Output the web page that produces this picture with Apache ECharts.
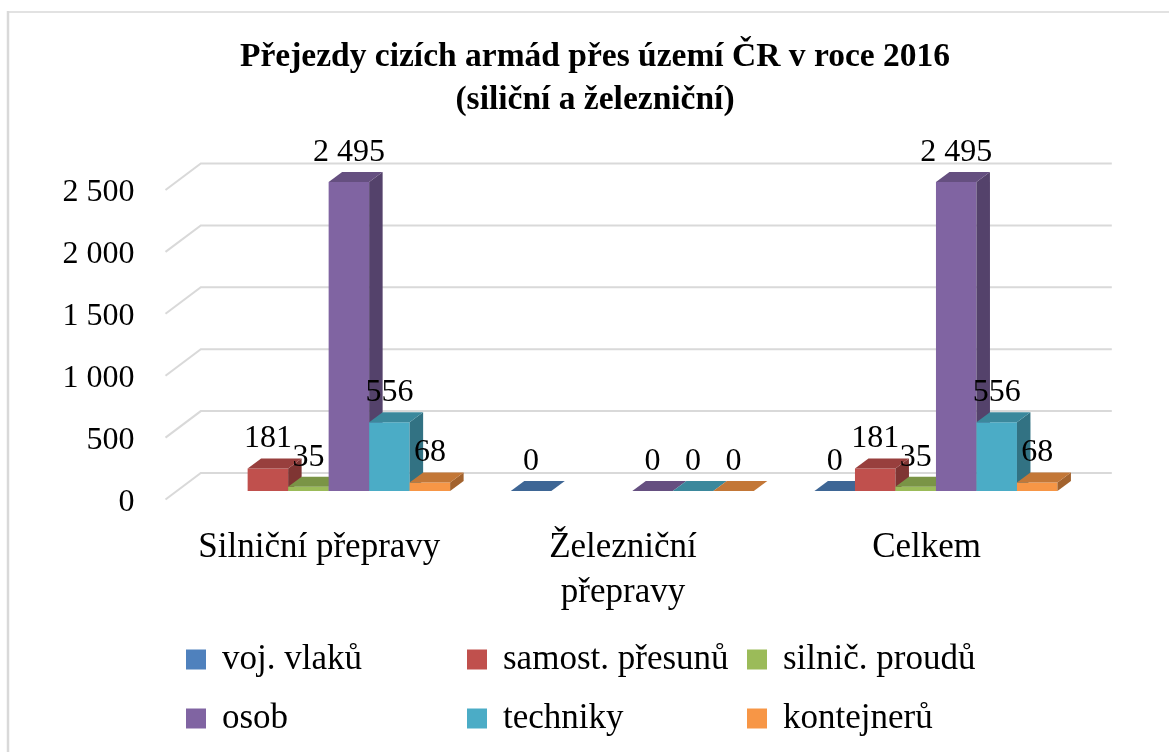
<!DOCTYPE html>
<html><head><meta charset="utf-8">
<style>html,body{margin:0;padding:0;background:#fff}#c{width:1169px;height:752px}</style>
<script src="https://cdn.jsdelivr.net/npm/echarts@6/dist/echarts.min.js"></script>
</head><body><div id="c"></div>
<script>
const categories = ['Silniční přepravy', 'Železniční\npřepravy', 'Celkem'];
const yTicks = [0, 500, 1000, 1500, 2000, 2500];
const seriesNames = ['voj. vlaků', 'samost. přesunů', 'silnič. proudů', 'osob', 'techniky', 'kontejnerů'];
const vojVlaku = [null, 0, 0];
const samostPresunu = [181, null, 181];
const silnicProudu = [35, null, 35];
const osob = [2495, 0, 2495];
const techniky = [556, 0, 556];
const kontejneru = [68, 0, 68];
const seriesValues = [vojVlaku, samostPresunu, silnicProudu, osob, techniky, kontejneru];
const colors = ['#4F81BD', '#C0504D', '#9BBB59', '#8064A2', '#4BACC6', '#F79646'];

const FONT = '"Liberation Serif", serif';
const WALL = [35.3, -26.5], BAR_SHIFT = [11.3, -8.5], BAR_DEPTH = [13.5, -10];
const BAR_RATIO = 40.5 / 303.67;

function shade(hex, k) {
  const n = parseInt(hex.slice(1), 16);
  const c = s => Math.round(((n >> s) & 255) * k);
  return `rgb(${c(16)},${c(8)},${c(0)})`;
}
const spaced = v => String(v).replace(/\B(?=(\d{3})+$)/g, ' ');

const gridSeries = {
  type: 'custom', name: 'mřížka', silent: true, z: 1,
  data: yTicks.map(t => [0, t]),
  encode: { x: 0, y: 1 },
  renderItem(params, api) {
    const y = api.coord([0, api.value(1)])[1];
    const x0 = params.coordSys.x, x1 = x0 + params.coordSys.width;
    return {
      type: 'polyline',
      shape: { points: [[x0, y], [x0 + WALL[0], y + WALL[1]], [x1 + WALL[0], y + WALL[1]]] },
      style: { stroke: '#D9D9D9', lineWidth: 2, fill: null }
    };
  }
};

const barSeries = seriesNames.map((name, si) => ({
  type: 'custom', name, z: 2,
  itemStyle: { color: colors[si] },
  data: seriesValues[si].map((v, i) => [i, v]),
  encode: { x: 0, y: 1 },
  renderItem(params, api) {
    const v = api.value(1);
    if (v === null || isNaN(v)) return null;
    const cat = api.value(0);
    const c = api.coord([cat, v]);
    const base = api.coord([cat, 0]);
    const w = api.size([1, 0])[0] * BAR_RATIO;
    const l = c[0] + (si - 3) * w + BAR_SHIFT[0], r = l + w;
    const t = c[1] + BAR_SHIFT[1], b = base[1] + BAR_SHIFT[1];
    const [dx, dy] = BAR_DEPTH;
    const col = colors[si];
    const children = [];
    if (b - t > 0.01) {
      children.push({ type: 'rect', shape: { x: l, y: t, width: w, height: b - t }, style: { fill: col } });
      children.push({ type: 'polygon', shape: { points: [[r, t], [r + dx, t + dy], [r + dx, b + dy], [r, b]] }, style: { fill: shade(col, 0.66) } });
    }
    children.push({ type: 'polygon', shape: { points: [[l, t], [l + dx, t + dy], [r + dx, t + dy], [r, t]] }, style: { fill: shade(col, 0.79) } });
    children.push({
      type: 'text', z2: 100, silent: true,
      style: { x: l + w / 2, y: t - 29.5, text: spaced(v), font: `32px ${FONT}`, fill: '#000', align: 'center', verticalAlign: 'middle' }
    });
    return { type: 'group', children };
  }
}));

const legendPos = [[186, 642], [467, 642], [747, 642], [186, 701], [467, 701], [747, 701]];
const legends = seriesNames.map((name, i) => ({
  data: [name], left: legendPos[i][0], top: legendPos[i][1], icon: 'rect',
  itemWidth: 20, itemHeight: 20, selectedMode: false, padding: 0, itemGap: 0,
  textStyle: { fontFamily: FONT, fontSize: 35, color: '#000', padding: [0, 0, 0, 11], lineHeight: 20, height: 20 }
}));

const chart = echarts.init(document.getElementById('c'), null, { renderer: 'canvas' });
chart.setOption({
  animation: false,
  backgroundColor: '#fff',
  title: {
    text: 'Přejezdy cizích armád přes území ČR v roce 2016\n(siliční a železniční)',
    left: 595, top: 36, textAlign: 'center', padding: 0,
    textStyle: { fontFamily: FONT, fontSize: 33.5, fontWeight: 'bold', color: '#000', lineHeight: 43 }
  },
  legend: legends,
  grid: { left: 165.5, top: 190, width: 911, height: 309.5, containLabel: false },
  xAxis: {
    type: 'category', data: categories,
    axisLine: { show: false }, axisTick: { show: false }, splitLine: { show: false },
    axisLabel: { fontFamily: FONT, fontSize: 35, color: '#000', margin: 26, lineHeight: 45, interval: 0, padding: [0, 0, 0, 4] }
  },
  yAxis: {
    type: 'value', min: 0, max: 2500, interval: 500,
    axisLine: { show: false }, axisTick: { show: false }, splitLine: { show: false },
    axisLabel: { fontFamily: FONT, fontSize: 32, color: '#000', margin: 31, formatter: spaced, verticalAlign: 'top', lineHeight: 6 }
  },
  graphic: [
    { type: 'line', silent: true, shape: { x1: 8, y1: 11, x2: 8, y2: 752 }, style: { stroke: '#D9D9D9', lineWidth: 2.5 } },
    { type: 'line', silent: true, shape: { x1: 7, y1: 12, x2: 1169, y2: 12 }, style: { stroke: '#D9D9D9', lineWidth: 1.5 } }
  ],
  series: [gridSeries, ...barSeries]
});
</script></body></html>
